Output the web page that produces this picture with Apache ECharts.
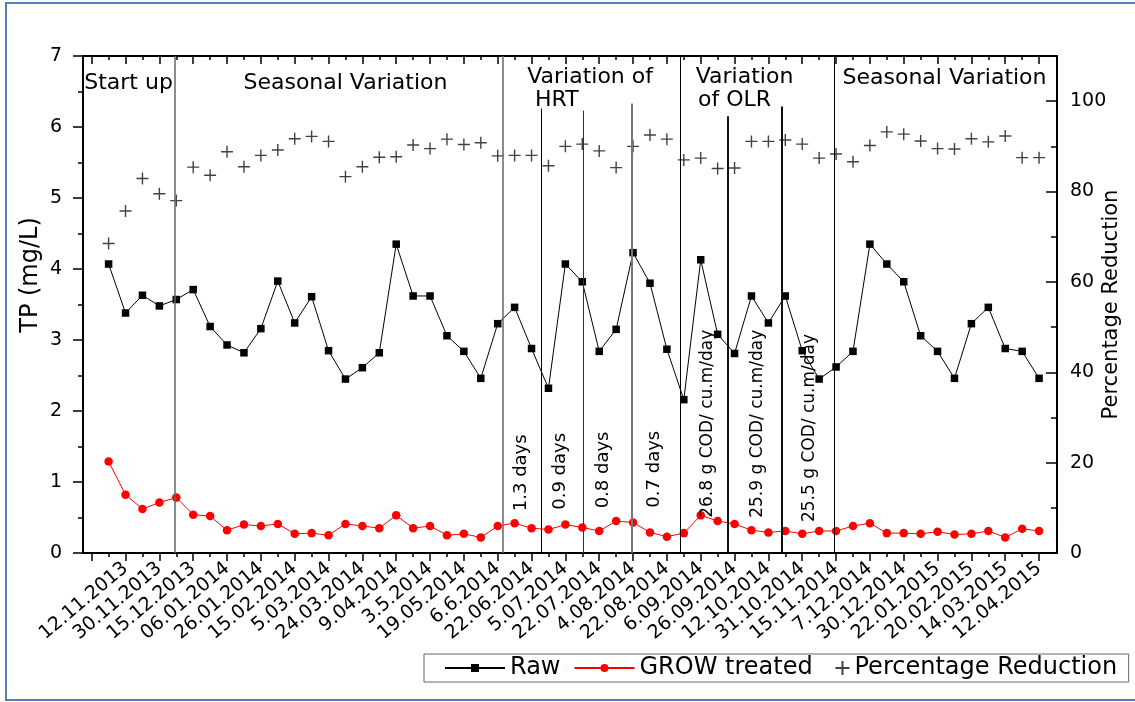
<!DOCTYPE html>
<html><head><meta charset="utf-8">
<script src="https://cdn.jsdelivr.net/npm/echarts@6/dist/echarts.min.js"></script>
<style>
html,body{margin:0;padding:0;background:#fff;overflow:hidden;width:1135px;height:702px;}
#chart{position:absolute;left:0;top:0;width:1135px;height:702px;}
#frame{position:absolute;left:5px;top:2px;width:1140px;height:699px;border:2px solid #4f81bd;box-sizing:border-box;pointer-events:none;}
</style></head><body>
<div id="chart"></div><div id="frame"></div>
<script>
// ---------- data ----------
const dates = ['12.11.2013','30.11.2013','15.12.2013','06.01.2014','26.01.2014','15.02.2014','5.03.2014','24.03.2014','9.04.2014','3.5.2014','19.05.2014','6.6.2014','22.06.2014','5.07.2014','22.07.2014','4.08.2014','22.08.2014','6.09.2014','26.09.2014','12.10.2014','31.10.2014','15.11.2014','7.12.2014','30.12.2014','22.01.2015','20.02.2015','14.03.2015','12.04.2015'];
const raw = [4.07,3.38,3.63,3.48,3.57,3.71,3.19,2.93,2.82,3.16,
             3.83,3.24,3.61,2.85,2.45,2.61,2.82,4.35,3.62,3.62,
             3.06,2.84,2.46,3.23,3.46,2.88,2.32,4.07,3.82,2.84,
             3.15,4.23,3.80,2.87,2.16,4.13,3.08,2.81,3.62,3.24,
             3.62,2.85,2.45,2.62,2.84,4.35,4.07,3.82,3.06,2.84,
             2.46,3.23,3.46,2.88,2.84,2.46];
const grow = [1.29,0.82,0.62,0.71,0.78,0.54,0.52,0.32,0.40,0.38,
              0.41,0.27,0.28,0.25,0.41,0.38,0.35,0.53,0.35,0.38,
              0.25,0.27,0.22,0.38,0.42,0.35,0.33,0.40,0.36,0.31,
              0.45,0.43,0.29,0.23,0.28,0.53,0.45,0.41,0.32,0.29,
              0.31,0.27,0.31,0.31,0.38,0.42,0.28,0.28,0.27,0.30,
              0.26,0.27,0.31,0.22,0.34,0.31];
const reduction = [68.5,75.7,82.9,79.5,78.0,85.4,83.6,88.8,85.5,88.0,
                   89.2,91.7,92.2,91.1,83.3,85.5,87.6,87.7,90.3,89.5,
                   91.6,90.4,90.8,87.9,88.0,88.0,85.7,90.0,90.5,89.0,
                   85.3,90.0,92.5,91.6,87.0,87.4,85.1,85.2,91.1,91.1,
                   91.4,90.5,87.4,88.3,86.6,90.2,93.2,92.7,91.2,89.5,
                   89.4,91.7,91.0,92.3,87.5,87.5];
const rightTicks = [0,20,40,60,80,100];
const rightMinor = [10,30,50,70,90];
// phase boundary lines (x in sample index units, top in TP units)
const boundaryX   = [4.9, 24.3, 26.55, 29.05, 31.9, 34.8, 37.6, 40.8, 43.9];
const boundaryTop = [7, 7, 6.26, 6.23, 6.33, 7, 6.15, 6.29, 7];
// phase titles
const phaseTexts = ['Start up','Seasonal Variation','Variation of','HRT','Variation','of OLR','Seasonal Variation'];
const phaseAt = [[2.18,6.62],[15.0,6.62],[29.46,6.70],[27.49,6.37],[38.59,6.70],[38.0,6.37],[50.41,6.69]];
// condition notes (vertical)
const noteTexts = ['1.3 days','0.9 days','0.8 days','0.7 days','26.8 g COD/ cu.m/day','25.9 g COD/ cu.m/day','25.5 g COD/ cu.m/day'];
const noteAt = [[25.42,1.13],[27.68,1.15],[30.25,1.17],[33.27,1.18],[36.4,1.82],[39.35,1.82],[42.42,1.76]];

// ---------- styling ----------
const FONT = "'DejaVu Sans', sans-serif";
const boundaryStyle = [
  {color:'#666',width:1.5},{color:'#666',width:1.5},{color:'#000',width:1},{color:'#333',width:1},
  {color:'#777',width:2},{color:'#000',width:1},{color:'#111',width:2},{color:'#111',width:2},{color:'#000',width:1}
];
const X_MIN = -0.514, X_MAX = 57.06;
const majorTicks = [], minorTicks = [], labelTicks = [];
for (let i = 0; i <= raw.length; i++) { (i % 2 === 0 ? majorTicks : minorTicks).push(i); }
dates.forEach((d, k) => labelTicks.push(2 * (k + 1)));

const xCommon = {type:'value', min:X_MIN, max:X_MAX, splitLine:{show:false}, gridIndex:0};
const axisLineStyle = {color:'#000', width:2};
const tickStyle = {color:'#000', width:1.5};

const chart = echarts.init(document.getElementById('chart'), null, {renderer:'canvas'});
chart.setOption({
  animation:false,
  textStyle:{fontFamily:FONT},
  grid:{left:83, right:78, top:56, bottom:149, containLabel:false, outerBoundsMode:'none'},
  xAxis:[
    Object.assign({}, xCommon, {position:'bottom',
      axisLine:{show:true, onZero:false, lineStyle:axisLineStyle},
      axisTick:{show:true, customValues:majorTicks, length:8, lineStyle:tickStyle},
      axisLabel:{show:true, customValues:labelTicks, rotate:40, margin:13, fontSize:19, fontFamily:FONT, color:'#000',
                 formatter:v => dates[Math.round(v/2) - 1] || ''}}),
    Object.assign({}, xCommon, {position:'bottom',
      axisLine:{show:false, onZero:false},
      axisTick:{show:true, customValues:minorTicks, length:4, lineStyle:tickStyle},
      axisLabel:{show:false}}),
    Object.assign({}, xCommon, {position:'top',
      axisLine:{show:true, onZero:false, lineStyle:axisLineStyle},
      axisTick:{show:true, inside:true, customValues:majorTicks, length:8, lineStyle:tickStyle},
      axisLabel:{show:false}}),
    Object.assign({}, xCommon, {position:'top',
      axisLine:{show:false, onZero:false},
      axisTick:{show:true, inside:true, customValues:minorTicks, length:4, lineStyle:tickStyle},
      axisLabel:{show:false}})
  ],
  yAxis:[
    {type:'value', position:'left', min:0, max:7, interval:1,
     name:'TP (mg/L)', nameLocation:'middle', nameGap:40, nameRotate:90, nameMoveOverlap:false,
     nameTextStyle:{fontSize:24, fontFamily:FONT, color:'#000', padding:[0,0,0,59]},
     axisLine:{show:true, onZero:false, lineStyle:axisLineStyle},
     axisTick:{show:true, length:10, lineStyle:tickStyle},
     minorTick:{show:true, splitNumber:2, length:5, lineStyle:tickStyle},
     axisLabel:{margin:21, fontSize:19, fontFamily:FONT, color:'#000'},
     splitLine:{show:false}, minorSplitLine:{show:false}},
    {type:'value', position:'right', min:0, max:110,
     name:'Percentage Reduction', nameLocation:'middle', nameGap:44, nameRotate:90, nameMoveOverlap:false,
     nameTextStyle:{fontSize:21, fontFamily:FONT, color:'#000'},
     axisLine:{show:true, onZero:false, lineStyle:axisLineStyle},
     axisTick:{show:true, inside:true, customValues:rightTicks, length:11, lineStyle:tickStyle},
     axisLabel:{customValues:rightTicks, margin:13, fontSize:19, fontFamily:FONT, color:'#000'},
     splitLine:{show:false}},
    {type:'value', position:'right', min:0, max:110,
     axisLine:{show:false, onZero:false},
     axisTick:{show:true, inside:true, customValues:rightMinor, length:6, lineStyle:tickStyle},
     axisLabel:{show:false}, splitLine:{show:false}}
  ],
  legend:[
    {left:424, top:654, padding:[2,316,2,20], itemWidth:60, itemHeight:10, itemGap:13,
     borderColor:'#666', borderWidth:1, selectedMode:false,
     data:['Raw','GROW treated'],
     textStyle:{fontSize:24, fontFamily:FONT, color:'#000'}},
    {left:833, top:656, padding:0, itemWidth:14, itemHeight:14, selectedMode:false,
     data:['Percentage Reduction'],
     textStyle:{fontSize:24, fontFamily:FONT, color:'#000'}}
  ],
  series:[
    {name:'Raw', type:'line', xAxisIndex:0, yAxisIndex:0,
     data:raw.map((v,i)=>[i+1, v]),
     symbol:'rect', symbolSize:7.5, showAllSymbol:true,
     itemStyle:{color:'#000'}, lineStyle:{color:'#000', width:1}, emphasis:{disabled:true}},
    {name:'GROW treated', type:'line', xAxisIndex:0, yAxisIndex:0,
     data:grow.map((v,i)=>[i+1, v]),
     symbol:'circle', symbolSize:8.5, showAllSymbol:true,
     itemStyle:{color:'#ff0000'}, lineStyle:{color:'#ff0000', width:1}, emphasis:{disabled:true}},
    {name:'Percentage Reduction', type:'scatter', xAxisIndex:0, yAxisIndex:1,
     data:reduction.map((v,i)=>[i+1, v]),
     symbol:'path://M5,0L5,10M0,5L10,5', symbolSize:12, symbolKeepAspect:true,
     itemStyle:{color:'none', borderColor:'#111', borderWidth:1.4}, emphasis:{disabled:true}},
    {name:'annotations', type:'line', xAxisIndex:0, yAxisIndex:0, data:[], silent:true,
     markLine:{silent:true, symbol:['none','none'], label:{show:false}, animation:false,
       data: boundaryX.map((x,i)=>[
         {coord:[x, boundaryTop[i]], lineStyle:Object.assign({type:'solid'}, boundaryStyle[i])},
         {coord:[x, 0]}
       ])},
     markPoint:{silent:true, animation:false,
       data: phaseTexts.map((t,i)=>({coord:phaseAt[i], symbolSize:0,
               label:{show:true, position:'inside', formatter:t, fontSize:22, fontFamily:FONT, color:'#000'}}))
         .concat(noteTexts.map((t,i)=>({coord:noteAt[i], symbolSize:0,
               label:{show:true, position:'inside', formatter:t, rotate:90, fontSize:(t.length>10?17:18), fontFamily:FONT, color:'#000'}})))
     }}
  ]
});
</script>
</body></html>
